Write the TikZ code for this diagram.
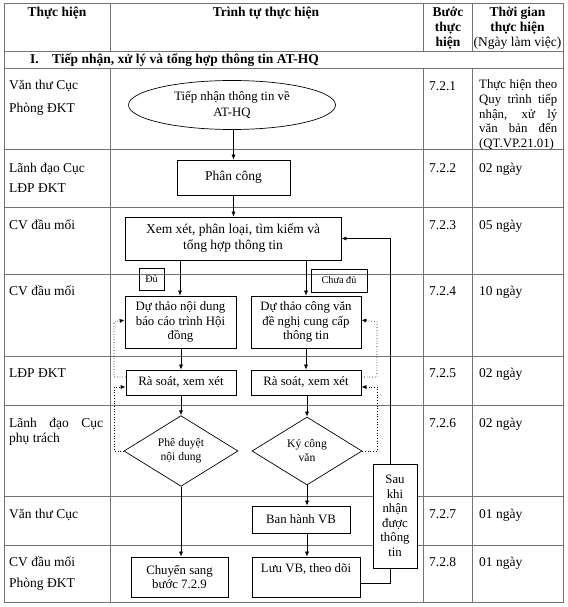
\documentclass[tikz,border=0pt]{standalone}
\usepackage{fontspec}
\setmainfont{Liberation Serif}
\usetikzlibrary{shapes.geometric,arrows.meta,calc}
\begin{document}
\begin{tikzpicture}[x=1pt,y=-1pt,
  gridline/.style={draw=black!55, line width=0.6pt},
  box/.style={draw, line width=0.7pt, align=center, inner sep=0pt, fill=white,
    font=\fontsize{12.8}{14.5}\selectfont},
  tag/.style={draw, line width=0.6pt, inner sep=0pt, font=\fontsize{10.2}{12}\selectfont},
  dia/.style={draw, line width=0.7pt, diamond, align=center, inner sep=0pt,
    font=\fontsize{11.6}{14}\selectfont},
  arr/.style={-{Latex[length=5pt,width=4pt]}, line width=0.6pt},
  dotarr/.style={dotted, line width=0.7pt, -{Latex[length=5pt,width=4pt]}},
  txt/.style={anchor=base west, inner sep=0pt, font=\fontsize{13.5}{16}\selectfont},
  ctxt/.style={anchor=base, inner sep=0pt, font=\fontsize{13.5}{16}\selectfont},
  hdr/.style={anchor=base, inner sep=0pt, font=\fontsize{13.5}{16}\selectfont\bfseries},
  ]
\useasboundingbox (0,0) rectangle (567,607);

% ---------- table grid ----------
\draw[gridline] (4,3) rectangle (563,602);
\foreach \yy in {51,68,149,207,274,356,405,496,545}
  \draw[gridline] (4,\yy) -- (563,\yy);
\foreach \xx in {110,423,472} {
  \draw[gridline] (\xx,3) -- (\xx,51);
  \draw[gridline] (\xx,68) -- (\xx,602);
}

% ---------- header ----------
\node[hdr] (h1) at (57,17) {Thực hiện};
\node[hdr] (h2) at (266,17) {Trình tự thực hiện};
\node[hdr] (h3a) at (448,17) {Bước};
\node[hdr] (h3b) at (448,32) {thực};
\node[hdr] (h3c) at (448,47) {hiện};
\node[hdr] (h4a) at (517.5,17) {Thời gian};
\node[hdr] (h4b) at (517.5,32) {thực hiện};
\node[ctxt] (h4c) at (517.5,47) {(Ngày làm việc)};
\node[hdr, anchor=base west] (secI) at (30,64) {I.};
\node[hdr, anchor=base west] (secT) at (52,64) {Tiếp nhận, xử lý và tổng hợp thông tin AT-HQ};

% ---------- column 1 ----------
\node[txt] (a1) at (9,90) {Văn thư Cục};
\node[txt] (a1b) at (9,113) {Phòng ĐKT};
\node[txt] (a2) at (9,172) {Lãnh đạo Cục};
\node[txt] (a2b) at (9,192) {LĐP ĐKT};
\node[txt] (a3) at (9,229) {CV đầu mối};
\node[txt] (a4) at (9,295) {CV đầu mối};
\node[txt] (a5) at (9,377) {LĐP ĐKT};
\node[txt] (a6) at (9,427) {\makebox[94pt][s]{Lãnh đạo Cục}};
\node[txt] (a6b) at (9,442) {phụ trách};
\node[txt] (a7) at (9,518) {Văn thư Cục};
\node[txt] (a8) at (9,566) {CV đầu mối};
\node[txt] (a8b) at (9,587) {Phòng ĐKT};

% ---------- column 3 ----------
\node[txt] (b1) at (429,91) {7.2.1};
\node[txt] (b2) at (429,172) {7.2.2};
\node[txt] (b3) at (429,229) {7.2.3};
\node[txt] (b4) at (429,295) {7.2.4};
\node[txt] (b5) at (429,377) {7.2.5};
\node[txt] (b6) at (429,427) {7.2.6};
\node[txt] (b7) at (429,518) {7.2.7};
\node[txt] (b8) at (429,566) {7.2.8};

% ---------- column 4 ----------
\begin{scope}[every node/.style={anchor=base west, inner sep=0pt, font=\fontsize{12.8}{14}\selectfont}]
\node (c1a) at (479,89) {\makebox[78pt][s]{Thực hiện theo}};
\node (c1b) at (479,103.5) {\makebox[78pt][s]{Quy trình tiếp}};
\node (c1c) at (479,118) {\makebox[78pt][s]{nhận, xử lý}};
\node (c1d) at (479,132.5) {\makebox[78pt][s]{văn bản đến}};
\node (c1e) at (479,147) {\makebox[78pt][s]{(QT.VP.21.01)}};
\end{scope}
\node[txt] (c2) at (479,172) {02 ngày};
\node[txt] (c3) at (479,229) {05 ngày};
\node[txt] (c4) at (479,295) {10 ngày};
\node[txt] (c5) at (479,377) {02 ngày};
\node[txt] (c6) at (479,427) {02 ngày};
\node[txt] (c7) at (479,518) {01 ngày};
\node[txt] (c8) at (479,566) {01 ngày};

% ---------- flow shapes ----------
\node[box, ellipse, minimum width=207pt, minimum height=49pt, font=\fontsize{12.8}{16}\selectfont]
  (start) at (232,105) {Tiếp nhận thông tin về\\AT-HQ};
\node[box, minimum width=113pt, minimum height=35pt, font=\fontsize{13.5}{16}\selectfont]
  (phancong) at (233.5,177.5) {Phân công};
\node[box, minimum width=216pt, minimum height=43pt, font=\fontsize{13.5}{16}\selectfont]
  (xemxet) at (233,238.5) {Xem xét, phân loại, tìm kiếm và\\tổng hợp thông tin};
\node[box, minimum width=111pt, minimum height=52pt] (dt1) at (180.5,322)
  {Dự thảo nội dung\\báo cáo trình Hội\\đồng};
\node[box, minimum width=110pt, minimum height=52pt] (dt2) at (306,322)
  {Dự thảo công văn\\đề nghị cung cấp\\thông tin};
\node[box, minimum width=110pt, minimum height=25pt] (rs1) at (181,382.5) {Rà soát, xem xét};
\node[box, minimum width=110pt, minimum height=25pt] (rs2) at (306,382.5) {Rà soát, xem xét};
\node[dia, minimum width=114pt, minimum height=68pt] (pd) at (181,451) {Phê duyệt\\nội dung};
\node[dia, minimum width=110pt, minimum height=68pt] (ky) at (307,451) {Ký công\\văn};
\node[box, minimum width=98pt, minimum height=27pt] (bh) at (301,519.5) {Ban hành VB};
\node[box, minimum width=108pt, minimum height=40pt] (luu) at (306,577) {Lưu VB, theo dõi\\ \strut};
\node[box, minimum width=97pt, minimum height=40pt] (chuyen) at (179.5,577) {Chuyển sang\\bước 7.2.9};

\node[tag, minimum width=25pt, minimum height=22pt] (du) at (151.5,279) {Đủ};
\node[tag, minimum width=56pt, minimum height=23pt] (chuadu) at (339,280.5) {Chưa đủ};

% ---------- connectors ----------
\draw[arr] (start.south -| phancong.north) -- (phancong.north);
\draw[arr] (phancong.south) -- (phancong.south |- xemxet.north);
\draw[arr] (xemxet.south -| 180,0) -- (dt1.north -| 180,0);
\draw[arr] (xemxet.south -| 306,0) -- (dt2.north);
\draw[arr] (dt1.south -| 181,0) -- (rs1.north);
\draw[arr] (dt2.south) -- (rs2.north);
\draw[arr] (rs1.south) -- (pd.north);
\draw[arr] (rs2.south -| ky.north) -- (ky.north);
\draw[arr] (pd.south) -- (pd.south |- chuyen.north);
\draw[arr] (ky.south) -- (ky.south |- bh.north);
\draw[arr] (bh.south -| ky.south) -- (ky.south |- luu.north);

\coordinate (lx) at (114,0);
\coordinate (rx) at (377,0);
\coordinate (loopx) at (390,0);
\draw[dotarr] ($(rs1.west)+(0,-5.5)$) -| (lx |- dt1.west) -- ($(dt1.west)+(0,-2)$);
\draw[dotarr] (pd.west) -| ($(lx |- rs1.west)+(0,4.5)$) -- ($(rs1.west)+(0,4.5)$);
\draw[dotarr] ($(rs2.east)+(0,-5.5)$) -| (rx |- dt2.east) -- ($(dt2.east)+(0,-2)$);
\draw[dotarr] (ky.east) -| ($(rx |- rs2.east)+(0,4.5)$) -- ($(rs2.east)+(0,4.5)$);

\draw[arr] ($(luu.east)+(0,6)$) -| (loopx |- xemxet.east) -- (xemxet.east);

\node[box, minimum width=44pt, minimum height=104pt] (sau) at (395,516)
  {Sau\\khi\\nhận\\được\\thông\\tin};
\end{tikzpicture}
\end{document}
